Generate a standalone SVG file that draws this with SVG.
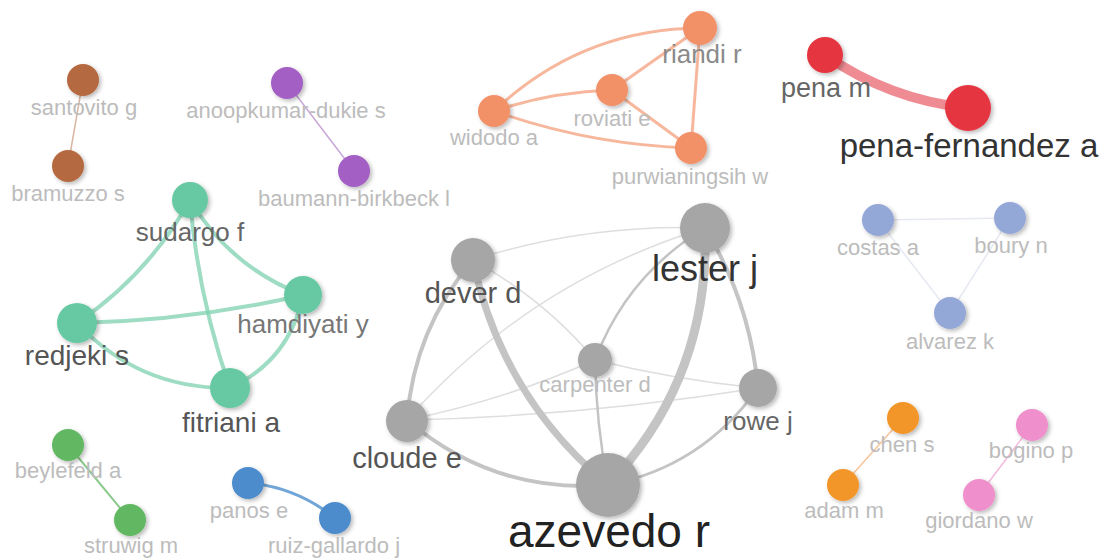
<svg xmlns="http://www.w3.org/2000/svg" width="1107" height="559" viewBox="0 0 1107 559">
<defs>
<filter id="sh" x="-50%" y="-50%" width="200%" height="200%">
<feDropShadow dx="2" dy="2" stdDeviation="2.2" flood-color="#000" flood-opacity="0.28"/>
</filter>
<style>
text{font-family:"Liberation Sans",Arial,sans-serif;text-anchor:middle}
.f{font-size:22px;fill:#bcbcbc}
circle{filter:url(#sh)}
.e{fill:none;stroke-linecap:round}
.gr{stroke:#c4c4c4}
.gt{stroke:#dedede;stroke-width:1.5}
.tl{stroke:#7fd0b0;stroke-opacity:0.75;stroke-width:4}
.sa{stroke:#f5a585;stroke-opacity:0.8;stroke-width:3}
</style>
</defs>
<rect width="1107" height="559" fill="#ffffff"/>
<g id="connectors">
<line class="e" x1="83" y1="80" x2="68" y2="166" stroke="#d9b6a2" stroke-width="1.5"/>
<line class="e" x1="287" y1="83" x2="354" y2="171" stroke="#c9a7d9" stroke-width="1.5"/>
<path class="e sa" d="M494 111 Q581 29 700 28"/>
<path class="e sa" d="M494 111 Q590 145 691 148"/>
<path class="e sa" d="M494 111 Q551 92 612 90"/>
<line class="e sa" x1="612" y1="90" x2="700" y2="28"/>
<line class="e sa" x1="612" y1="90" x2="691" y2="148"/>
<line class="e sa" x1="700" y1="28" x2="691" y2="148"/>
<path class="e" d="M825 55 Q890 100 968 108" stroke="#ec7880" stroke-opacity="0.85" stroke-width="10"/>
<path class="e tl" d="M190 200 Q148 275 77 323"/>
<path class="e tl" d="M190 200 Q230 267 303 295"/>
<path class="e tl" d="M190 200 Q198 297 230 388"/>
<path class="e tl" d="M77 323 Q191 321 303 295"/>
<path class="e tl" d="M77 323 Q139 389 230 388"/>
<path class="e tl" d="M303 295 Q290 360 230 388"/>
<path class="e gt" d="M473 260 Q586 224 705 228"/>
<path class="e gt" d="M407 420 Q529 282 705 228"/>
<path class="e gt" d="M473 260 Q545 300 595 360"/>
<path class="e gt" d="M595 360 Q505 400 407 420"/>
<path class="e gt" d="M595 360 Q676 380 758 388"/>
<path class="e gt" d="M407 420 Q585 416 758 388"/>
<path class="e gr" stroke-width="2.5" d="M705 228 Q627 275 595 360"/>
<path class="e gr" stroke-width="2.5" d="M595 360 Q596 423 608 485"/>
<path class="e gr" stroke-width="3" d="M758 388 Q702 467 608 485"/>
<path class="e gr" stroke-width="4" d="M705 228 Q750 302 758 388"/>
<path class="e gr" stroke-width="4" d="M407 420 Q414 329 473 260"/>
<path class="e gr" stroke-width="4" d="M407 420 Q494 494 608 485"/>
<path class="e gr" stroke-width="7" d="M473 260 Q501 396 608 485"/>
<path class="e gr" stroke-width="9" d="M705 228 Q710 378 608 485"/>
<line class="e" x1="878" y1="220" x2="1010" y2="218" stroke="#e6e9f2" stroke-width="1.5"/>
<line class="e" x1="878" y1="220" x2="950" y2="313" stroke="#e6e9f2" stroke-width="1.5"/>
<line class="e" x1="1010" y1="218" x2="950" y2="313" stroke="#e6e9f2" stroke-width="1.5"/>
<line class="e" x1="903" y1="418" x2="843" y2="485" stroke="#f7c59a" stroke-width="1.5"/>
<line class="e" x1="1032" y1="425" x2="979" y2="495" stroke="#f4b9dc" stroke-width="1.5"/>
<line class="e" x1="68" y1="445" x2="130" y2="520" stroke="#8cc98c" stroke-width="2"/>
<path class="e" d="M248 483 Q296 487 335 518" stroke="#72a6d8" stroke-width="3"/>
</g>
<g id="n-santovito"><circle cx="83" cy="80" r="16" fill="#b5693f"/><text class="f" x="84" y="115">santovito g</text></g>
<g id="n-bramuzzo"><circle cx="68" cy="166" r="16" fill="#b5693f"/><text class="f" x="68" y="201">bramuzzo s</text></g>
<g id="n-anoopkumar"><circle cx="287" cy="83" r="16" fill="#a35fc4"/><text class="f" x="286" y="118">anoopkumar-dukie s</text></g>
<g id="n-baumann"><circle cx="354" cy="171" r="16" fill="#a35fc4"/><text class="f" x="354" y="206">baumann-birkbeck l</text></g>
<g id="n-widodo"><circle cx="494" cy="111" r="16" fill="#f29068"/><text class="f" x="494" y="145">widodo a</text></g>
<g id="n-roviati"><circle cx="612" cy="90" r="16" fill="#f29068"/><text class="f" x="612" y="126">roviati e</text></g>
<g id="n-riandi"><circle cx="700" cy="28" r="17" fill="#f29068"/><text x="702" y="63" font-size="26" fill="#8a8a8a">riandi r</text></g>
<g id="n-purwianingsih"><circle cx="691" cy="148" r="16" fill="#f29068"/><text class="f" x="690" y="184">purwianingsih w</text></g>
<g id="n-pena"><circle cx="825" cy="55" r="18" fill="#e5343f"/><text x="826" y="97" font-size="27" fill="#666">pena m</text></g>
<g id="n-pena-fernandez"><circle cx="968" cy="108" r="23" fill="#e5343f"/><text x="969" y="157" font-size="33" fill="#333">pena-fernandez a</text></g>
<g id="n-sudargo"><circle cx="190" cy="200" r="18" fill="#66c9a3"/><text x="190" y="241" font-size="26" fill="#666">sudargo f</text></g>
<g id="n-hamdiyati"><circle cx="303" cy="295" r="19" fill="#66c9a3"/><text x="303" y="333" font-size="26" fill="#777">hamdiyati y</text></g>
<g id="n-redjeki"><circle cx="77" cy="323" r="20" fill="#66c9a3"/><text x="77" y="365" font-size="28" fill="#555">redjeki s</text></g>
<g id="n-fitriani"><circle cx="230" cy="388" r="20" fill="#66c9a3"/><text x="231" y="432" font-size="28" fill="#555">fitriani a</text></g>
<g id="n-dever"><circle cx="473" cy="260" r="22" fill="#a6a6a6"/><text x="473" y="303" font-size="29" fill="#555">dever d</text></g>
<g id="n-lester"><circle cx="705" cy="228" r="25" fill="#a6a6a6"/><text x="705" y="281" font-size="36" fill="#333">lester j</text></g>
<g id="n-carpenter"><circle cx="595" cy="360" r="17" fill="#a6a6a6"/><text class="f" x="595" y="392" fill="#aaa">carpenter d</text></g>
<g id="n-rowe"><circle cx="758" cy="388" r="19" fill="#a6a6a6"/><text x="758" y="430" font-size="26" fill="#666">rowe j</text></g>
<g id="n-cloude"><circle cx="407" cy="421" r="21" fill="#a6a6a6"/><text x="407" y="468" font-size="29" fill="#555">cloude e</text></g>
<g id="n-azevedo"><circle cx="608" cy="485" r="32" fill="#a6a6a6"/><text x="609" y="547" font-size="46" fill="#222">azevedo r</text></g>
<g id="n-costas"><circle cx="878" cy="220" r="16" fill="#94a8d8"/><text class="f" x="878" y="255">costas a</text></g>
<g id="n-boury"><circle cx="1010" cy="218" r="16" fill="#94a8d8"/><text class="f" x="1011" y="253">boury n</text></g>
<g id="n-alvarez"><circle cx="950" cy="313" r="16" fill="#94a8d8"/><text class="f" x="950" y="349">alvarez k</text></g>
<g id="n-chen"><circle cx="903" cy="418" r="16" fill="#f2962a"/><text class="f" x="902" y="452">chen s</text></g>
<g id="n-adam"><circle cx="843" cy="485" r="16" fill="#f2962a"/><text class="f" x="844" y="518">adam m</text></g>
<g id="n-bogino"><circle cx="1032" cy="425" r="16" fill="#ef8fcb"/><text class="f" x="1031" y="458">bogino p</text></g>
<g id="n-giordano"><circle cx="979" cy="495" r="16" fill="#ef8fcb"/><text class="f" x="979" y="528">giordano w</text></g>
<g id="n-beylefeld"><circle cx="68" cy="445" r="16" fill="#62b862"/><text class="f" x="68" y="478">beylefeld a</text></g>
<g id="n-struwig"><circle cx="130" cy="520" r="16" fill="#62b862"/><text class="f" x="131" y="553">struwig m</text></g>
<g id="n-panos"><circle cx="248" cy="483" r="16" fill="#4d8ccc"/><text class="f" x="249" y="518">panos e</text></g>
<g id="n-ruiz-gallardo"><circle cx="335" cy="518" r="16" fill="#4d8ccc"/><text class="f" x="334" y="553">ruiz-gallardo j</text></g>
</svg>
